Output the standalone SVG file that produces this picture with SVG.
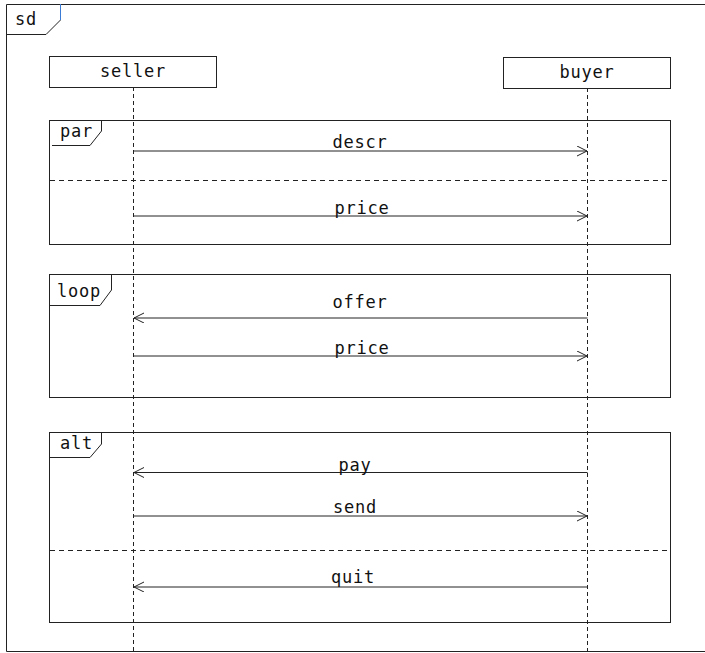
<svg xmlns="http://www.w3.org/2000/svg" width="705" height="653" viewBox="0 0 705 653">
<style>
.ln{fill:none;stroke:#222;stroke-width:1}
.box{fill:#fff;stroke:#222;stroke-width:1}
.life{fill:none;stroke:#222;stroke-width:1;stroke-dasharray:4 3}
.sep{fill:none;stroke:#222;stroke-width:1;stroke-dasharray:5 4}
.t{font-family:"DejaVu Sans Mono","Liberation Mono",monospace;font-size:17px;letter-spacing:0.8px;fill:#111}
.c{text-anchor:middle}
</style>
<defs>
<marker id="ah" markerWidth="12" markerHeight="12" refX="10" refY="5" orient="auto" markerUnits="userSpaceOnUse">
<path d="M0,0 L10,5 L0,10" fill="none" stroke="#222" stroke-width="1"/>
</marker>
</defs>
<g id="frame-sd">
<path class="ln" d="M6.5,4.5 H705 M6.5,4.5 V651.5 H705"/>
<path class="ln" d="M6.5,34.5 H46 L60.5,20"/>
<path d="M60.5,4 V20" fill="none" stroke="#3a7bd5" stroke-width="1"/>
<text class="t" x="15" y="25">sd</text>
</g>
<g id="lifelines">
<path class="life" d="M133.5,87 V653"/>
<path class="life" d="M587.5,88 V653"/>
</g>
<g id="seller">
<rect class="box" x="49.5" y="56.5" width="167" height="31"/>
<text class="t c" x="133" y="77">seller</text>
</g>
<g id="buyer">
<rect class="box" x="503.5" y="57.5" width="167" height="31"/>
<text class="t c" x="587" y="78">buyer</text>
</g>
<g id="par">
<rect class="ln" x="49.5" y="120.5" width="621" height="124"/>
<path class="ln" d="M52,145.5 H90 L101.5,131 V120.5"/>
<text class="t" x="60" y="137">par</text>
<path class="sep" d="M50,180.5 H670"/>
</g>
<g id="loop">
<rect class="ln" x="49.5" y="274.5" width="621" height="123"/>
<path class="ln" d="M49.5,305.5 H100 L111.5,290 V274.5"/>
<text class="t" x="57" y="297">loop</text>
</g>
<g id="alt">
<rect class="ln" x="49.5" y="432.5" width="621" height="190"/>
<path class="ln" d="M49.5,457.5 H90 L101.5,444 V432.5"/>
<text class="t" x="60" y="449">alt</text>
<path class="sep" d="M50,550.5 H670"/>
</g>
<g id="connectors">
<path class="ln" d="M133.5,151 H587" marker-end="url(#ah)"/>
<text class="t c" x="360" y="148">descr</text>
<path class="ln" d="M133.5,216 H587" marker-end="url(#ah)"/>
<text class="t c" x="362" y="214">price</text>
<path class="ln" d="M587.5,318 H134" marker-end="url(#ah)"/>
<text class="t c" x="360" y="308">offer</text>
<path class="ln" d="M133.5,356 H587" marker-end="url(#ah)"/>
<text class="t c" x="362" y="354">price</text>
<path class="ln" d="M587.5,472.5 H134" marker-end="url(#ah)"/>
<text class="t c" x="355" y="470.5">pay</text>
<path class="ln" d="M133.5,516 H587" marker-end="url(#ah)"/>
<text class="t c" x="355" y="513">send</text>
<path class="ln" d="M587.5,587 H134" marker-end="url(#ah)"/>
<text class="t c" x="353" y="583">quit</text>
</g>
</svg>
